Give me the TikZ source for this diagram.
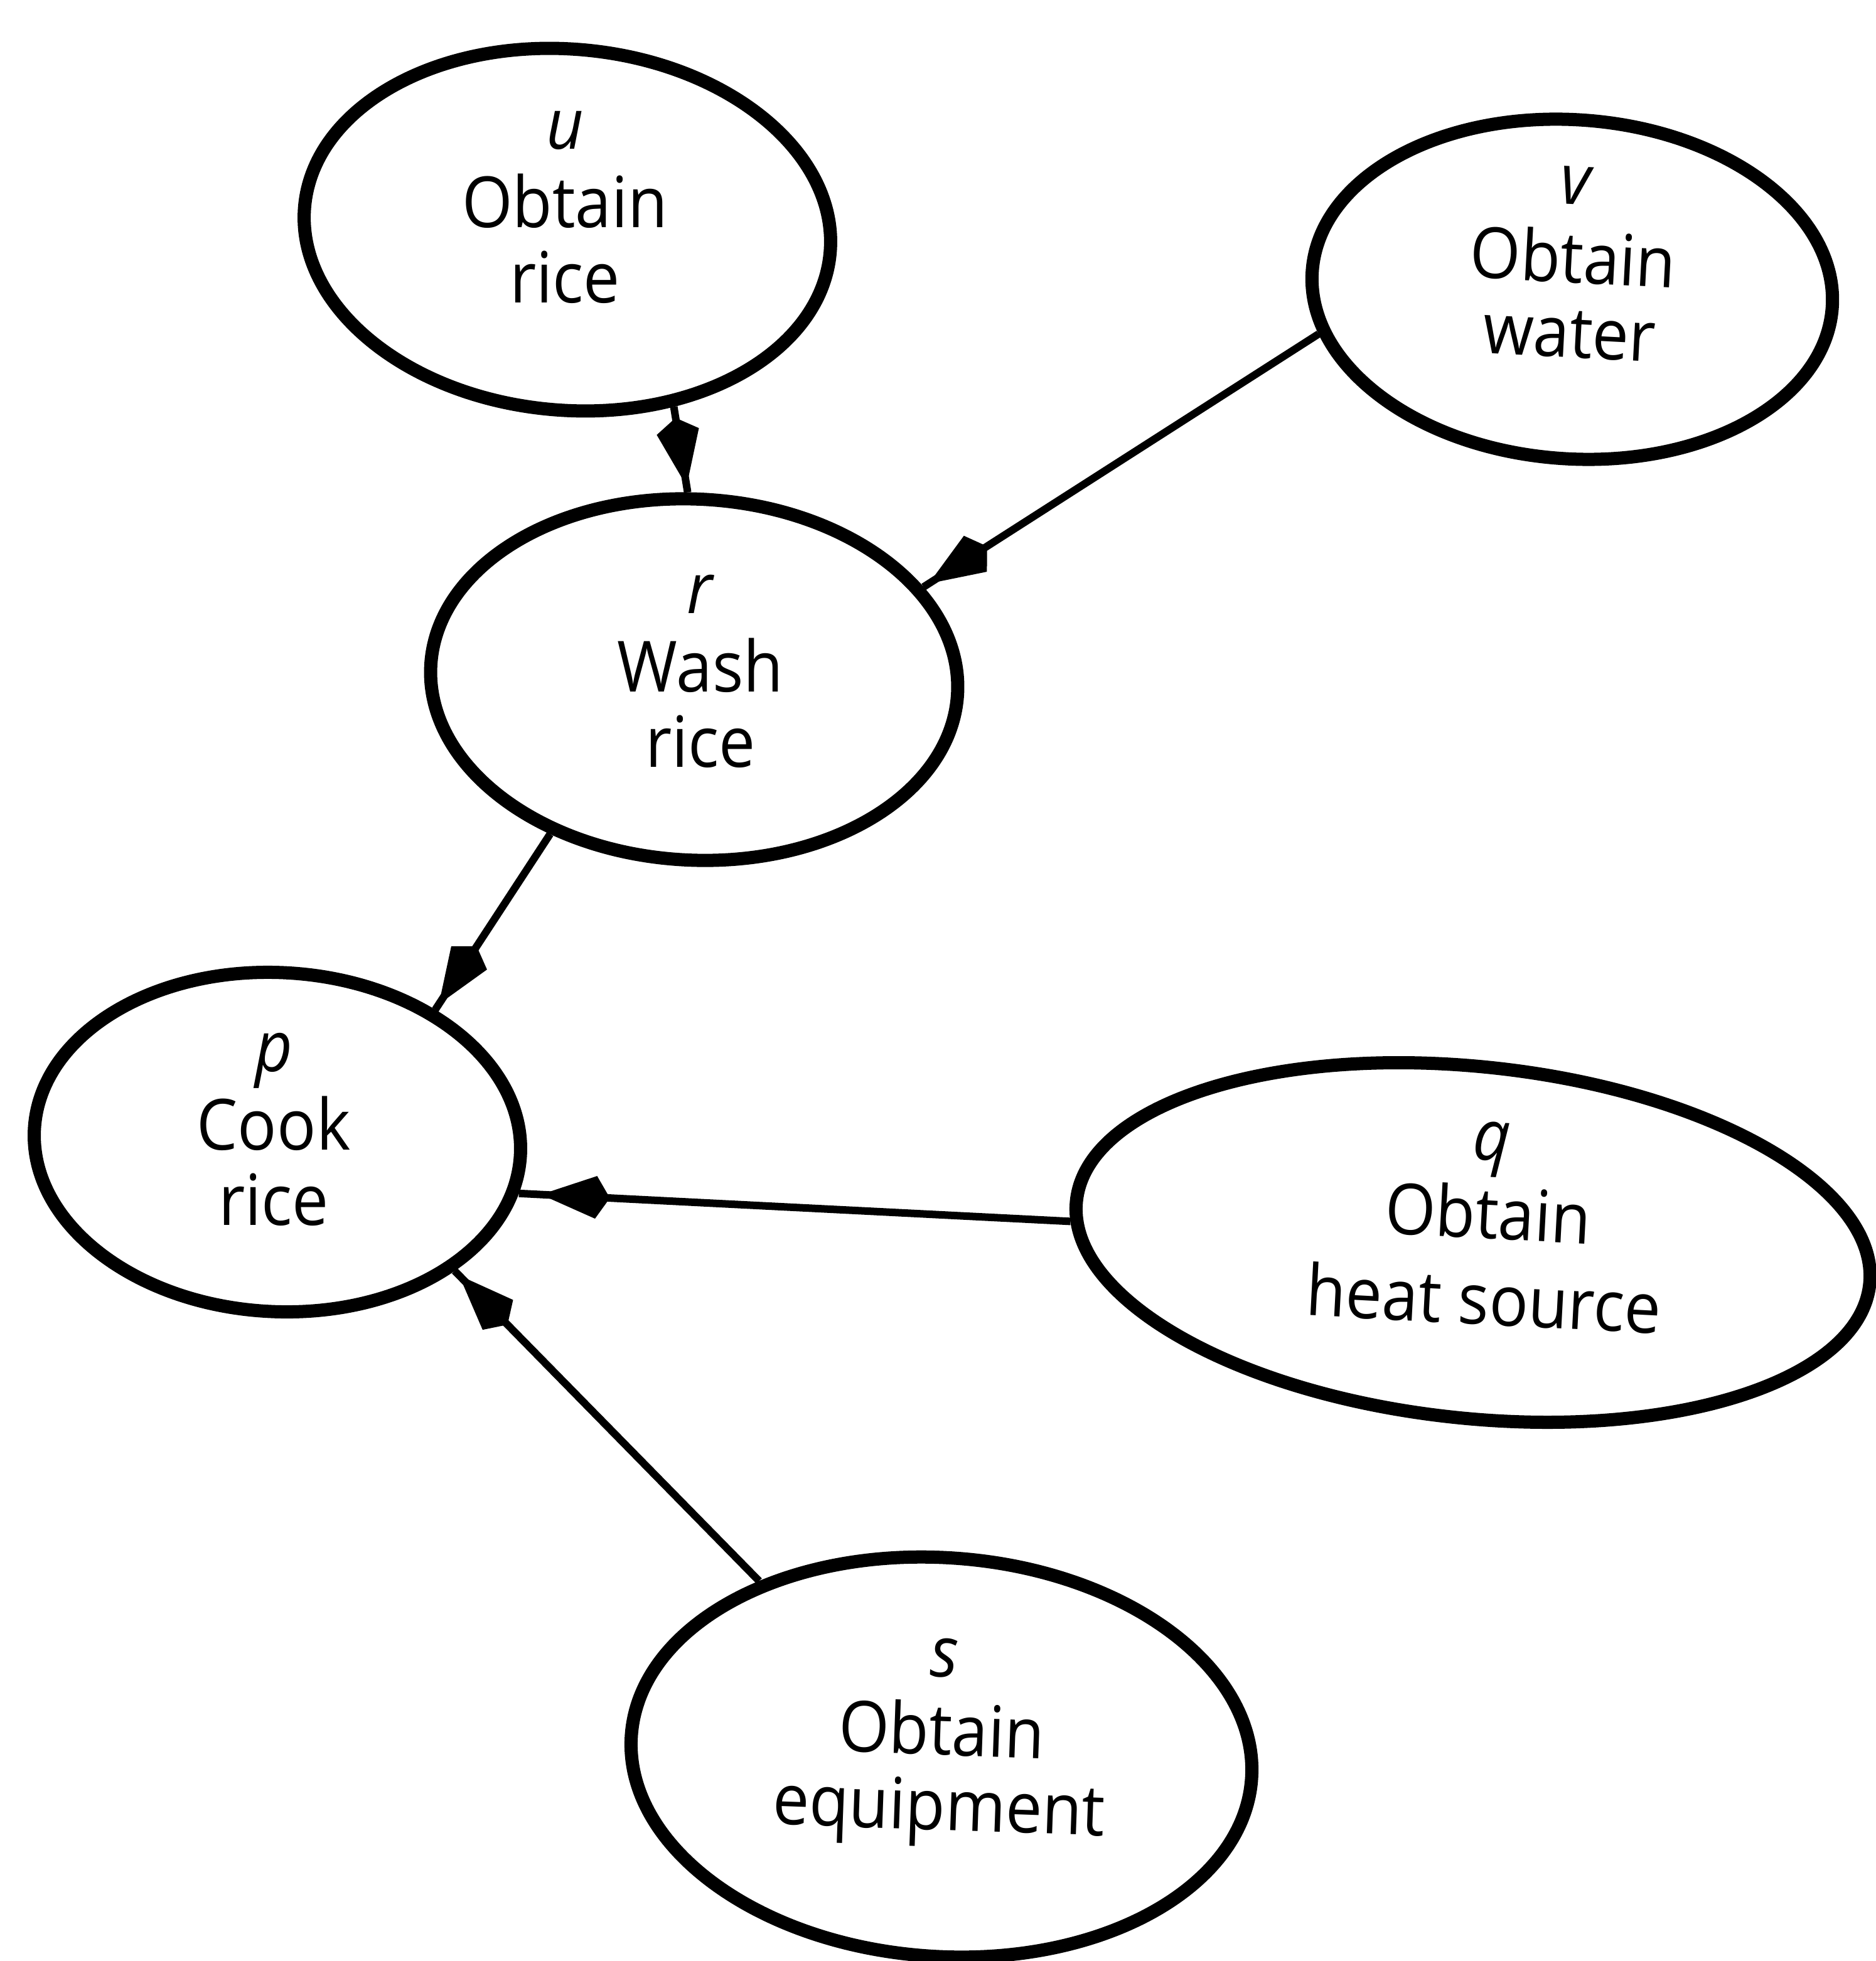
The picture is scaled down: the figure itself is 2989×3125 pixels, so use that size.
\documentclass[tikz,border=0pt]{standalone}
\usepackage{fontspec}
\setmainfont{Open Sans}[FakeStretch=0.92]
\usetikzlibrary{arrows.meta,decorations.markings,shapes.geometric}

\tikzset{
  task/.style={ellipse, draw, line width=0.21cm, inner sep=0pt},
  tasktext/.style={align=center, inner sep=0pt, font=\fontsize{32}{34}\selectfont},
  flow/.style={line width=0.12cm,
    decoration={markings,
      mark=at position #1 with {\arrow{Kite[length=1.1cm,width=0.68cm,inset=0.22cm]}}},
    postaction={decorate}},
  flow/.default=-0.1cm
}

\begin{document}
\begin{tikzpicture}[x=0.01cm,y=-0.01cm]
  \useasboundingbox[fill=white] (0,0) rectangle (2989,3125);

  % activities
  \node[task, minimum width=8.4cm, minimum height=5.75cm, rotate=-5] (u) at (904,366) {};
  \node[tasktext] (ut) at (900,336) {\strut\textit{u}\\Obtain\\rice\strut};

  \node[task, minimum width=8.3cm, minimum height=5.4cm, rotate=-4] (v) at (2505,461) {};
  \node[tasktext, rotate=-3] (vt) at (2506,424) {\strut\textit{v}\\Obtain\\water\strut};

  \node[task, minimum width=8.4cm, minimum height=5.75cm, rotate=-3] (r) at (1106,1083) {};
  \node[tasktext] (rt) at (1116,1076) {\strut\textit{r}\\Wash\\rice\strut};

  \node[task, minimum width=7.75cm, minimum height=5.4cm, rotate=-3] (p) at (442,1820) {};
  \node[tasktext] (pt) at (436,1806) {\strut\textit{p}\\Cook\\rice\strut};

  \node[task, minimum width=12.7cm, minimum height=5.6cm, rotate=-6] (q) at (2347,1980) {};
  \node[tasktext, rotate=-3] (qt) at (2370,1956) {\strut\textit{q}\\Obtain\\[5pt]heat source\strut};

  \node[task, minimum width=9.9cm, minimum height=6.35cm, rotate=-4] (s) at (1500,2800) {};
  \node[tasktext, rotate=-2] (st) at (1500,2770) {\strut\textit{s}\\Obtain\\equipment\strut};

  % precedence links (anchor angles are in each node's own rotated frame)
  \draw[flow] (u.-54) -- (r.95);
  \draw[flow] (v.194) -- (r.25);
  \draw[flow] (r.230) -- (p.43);
  \draw[flow=-0.35cm] (q.183) -- (p.-9);
  \draw[flow] (s.140) -- (p.-33);
\end{tikzpicture}
\end{document}
